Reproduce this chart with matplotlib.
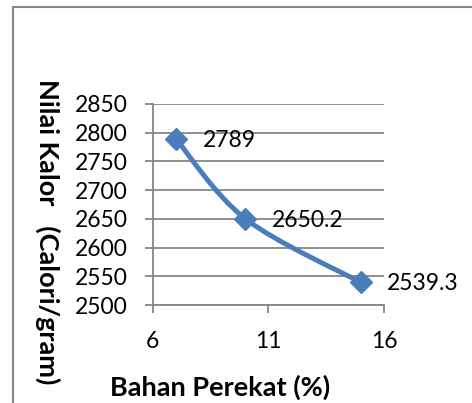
import numpy as np
import matplotlib.pyplot as plt
from matplotlib.path import Path
from matplotlib.patches import PathPatch, Rectangle

# data
perekat = [7, 10, 15]
kalor = [2789, 2650.2, 2539.3]
labels = ['2789', '2650.2', '2539.3']
xticks = [6, 11, 16]
yticks = [2500, 2550, 2600, 2650, 2700, 2750, 2800, 2850]

blue = '#4A7EBB'
grey = '#868686'
plt.rcParams['font.family'] = ['Lato', 'DejaVu Sans']
fs = 16.5
fs_lab = 19.5

fig = plt.figure(figsize=(4.72, 4.03), dpi=100)
ax = fig.add_axes([0.324, 0.243, 0.4896, 0.499])

# excel-style smoothed line: bezier segments, control points from neighbours
pts = np.column_stack([perekat, kalor]).astype(float)
verts = [pts[0]]
codes = [Path.MOVETO]
n = len(pts)
for i in range(n - 1):
    p0 = pts[max(i - 1, 0)]
    p1 = pts[i]
    p2 = pts[i + 1]
    p3 = pts[min(i + 2, n - 1)]
    c1 = p1 + (p2 - p0) / 6.0
    c2 = p2 - (p3 - p1) / 6.0
    verts += [c1, c2, p2]
    codes += [Path.CURVE4] * 3
ax.add_patch(PathPatch(Path(verts, codes), facecolor='none', edgecolor=blue,
                       lw=3.6, capstyle='round', joinstyle='round', zorder=3))
ax.plot(perekat, kalor, linestyle='none', marker='D', ms=11, color=blue,
        mec=blue, zorder=4)

for xv, yv, t in zip(perekat, kalor, labels):
    ax.annotate(t, (xv, yv), xytext=(19, -1), textcoords='offset points',
                ha='left', va='center', fontsize=fs, color='black', zorder=5)

ax.set_xlim(6, 16)
ax.set_ylim(2500, 2850)
ax.set_xticks(xticks)
ax.set_yticks(yticks)
ax.grid(axis='y', color=grey, lw=1.3)
ax.set_axisbelow(True)
for s in ['top', 'right']:
    ax.spines[s].set_visible(False)
for s in ['left', 'bottom']:
    ax.spines[s].set_color(grey)
    ax.spines[s].set_linewidth(1.3)
ax.tick_params(axis='both', direction='out', color=grey, width=1.3, length=6,
               labelsize=fs)
ax.tick_params(axis='y', pad=12)
ax.tick_params(axis='x', pad=13)

fig.text(0.466, 0.04, 'Bahan Perekat (%)', fontsize=fs_lab, fontweight='bold',
         ha='center', va='center')
fig.text(0.1, 0.424, 'Nilai Kalor   (Calori/gram)', rotation=-90,
         fontsize=fs_lab, fontweight='bold', ha='center', va='center')

# outer chart border (cut off at right and bottom)
fig.patches.append(Rectangle((13 / 472, -0.1), 1.2, 1.1 - 7 / 403,
                             transform=fig.transFigure, fill=False,
                             edgecolor=grey, lw=1.5))

fig.savefig('out.png', dpi=100)
